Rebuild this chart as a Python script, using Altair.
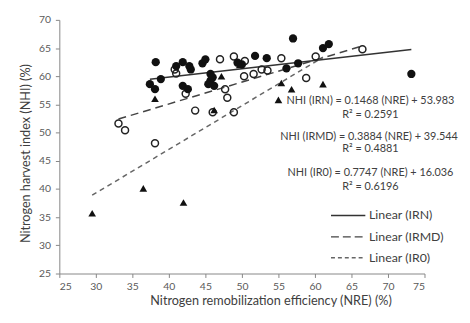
import altair as alt
import pandas as pd

# IRN series (filled circles)
irn_x = [38.2, 37.4, 38.1, 38.9, 41.0, 41.9, 42.8, 43.0, 41.9, 42.6, 44.6, 45.0, 45.7, 45.7,
         46.2, 45.4, 46.0, 51.8, 50.0, 53.4, 56.1, 57.0, 61.1, 61.9, 57.7, 73.2, 49.4]
irn_y = [62.5, 58.6, 57.7, 59.5, 61.8, 62.5, 61.8, 61.2, 58.3, 57.7, 62.3, 63.0, 60.4, 59.2,
         58.3, 58.6, 59.8, 63.6, 62.1, 63.2, 61.4, 66.7, 65.0, 65.7, 62.3, 60.4, 62.4]
# IRMD series (open circles)
irmd_x = [33.1, 34.0, 38.1, 43.6, 46.0, 48.9, 48.0, 47.7, 42.3, 40.8, 41.0, 47.0, 48.9, 50.4,
          50.3, 51.6, 52.7, 55.4, 60.1, 66.5, 58.8, 53.5]
irmd_y = [51.6, 50.4, 48.1, 53.9, 53.6, 53.6, 56.2, 57.7, 56.9, 61.2, 60.5, 63.0, 63.5, 62.7,
          60.0, 60.4, 61.2, 63.2, 63.5, 64.8, 59.7, 61.0]
# IR0 series (filled triangles)
ir0_x = [29.5, 36.5, 42.0, 38.1, 46.2, 47.2, 55.4, 56.8, 55.0, 61.1, 49.7]
ir0_y = [35.7, 40.1, 37.6, 56.0, 54.0, 60.0, 58.8, 57.7, 55.8, 58.6, 62.0]

# Trendline equations (slope, intercept)
fits = {"IRN": (0.1468, 53.983), "IRMD": (0.3884, 39.544), "IR0": (0.7747, 16.036)}

ann_text = ["NHI (IRN) = 0.1468 (NRE) + 53.983", "R² = 0.2591",
            "NHI (IRMD) = 0.3884 (NRE) + 39.544", "R² = 0.4881",
            "NHI (IR0) = 0.7747 (NRE) + 16.036", "R² = 0.6196"]
ann_x = [67.6, 67.6, 67.4, 67.6, 67.6, 67.6]
ann_y = [55.6, 53.2, 49.3, 47.1, 42.9, 40.4]

leg_labels = ["Linear (IRN)", "Linear (IRMD)", "Linear (IR0)"]
leg_y = [35.3, 31.5, 27.8]
leg_x1, leg_x2, leg_tx = 62.2, 66.9, 67.4

FONT = "Lato"
xs = alt.Scale(domain=[25, 75], nice=False, zero=False)
ys = alt.Scale(domain=[25, 70], nice=False, zero=False)
X = alt.X("x:Q", scale=xs, title="Nitrogen remobilization efficiency (NRE) (%)",
          axis=alt.Axis(values=list(range(25, 80, 5)), titleX=214))
Y = alt.Y("y:Q", scale=ys, title="Nitrogen harvest index (NHI) (%)",
          axis=alt.Axis(values=list(range(25, 75, 5)), titleY=135))

def pts(xv, yv):
    return pd.DataFrame({"x": xv, "y": yv})

irn = alt.Chart(pts(irn_x, irn_y)).mark_point(shape="circle", filled=True, size=70, color="#111", opacity=1).encode(x=X, y=Y)
irmd = alt.Chart(pts(irmd_x, irmd_y)).mark_point(shape="circle", filled=False, size=50, color="#222", strokeWidth=1.5, opacity=1).encode(x=X, y=Y)
ir0 = alt.Chart(pts(ir0_x, ir0_y)).mark_point(shape="triangle-up", filled=True, size=60, color="#111", opacity=1).encode(x=X, y=Y)

def fit_line(name, xv, dash, color):
    m, b = fits[name]
    lo, hi = min(xv), max(xv)
    df = pd.DataFrame({"x": [lo, hi], "y": [m * lo + b, m * hi + b]})
    kw = dict(color=color, strokeWidth=1.5)
    if dash:
        kw["strokeDash"] = dash
    return alt.Chart(df).mark_line(**kw).encode(x=X, y=Y)

l_irn = fit_line("IRN", irn_x, None, "#333")
l_irmd = fit_line("IRMD", irmd_x, [8, 5], "#444")
l_ir0 = fit_line("IR0", ir0_x, [5, 4], "#666")

ann = alt.Chart(pd.DataFrame({"x": ann_x, "y": ann_y, "t": ann_text})).mark_text(
    font=FONT, fontSize=11, color="#404040", align="center", baseline="middle").encode(x=X, y=Y, text="t:N")

legs = []
for lab, yy, dash, col in zip(leg_labels, leg_y, [None, [8, 4], [4, 3]], ["#333", "#444", "#666"]):
    df = pd.DataFrame({"x": [leg_x1], "x2": [leg_x2], "y": [yy]})
    kw = dict(color=col, strokeWidth=1.5)
    if dash:
        kw["strokeDash"] = dash
    legs.append(alt.Chart(df).mark_rule(**kw).encode(x=X, x2="x2", y=Y))
leg_text = alt.Chart(pd.DataFrame({"x": [leg_tx] * 3, "y": leg_y, "t": leg_labels})).mark_text(
    font=FONT, fontSize=12.5, color="#404040", align="left", baseline="middle").encode(x=X, y=Y, text="t:N")

chart = alt.layer(l_irmd, l_ir0, l_irn, irmd, irn, ir0, ann, *legs, leg_text).properties(
    width=370, height=257,
    autosize=alt.AutoSizeParams(type="none"),
    padding={"left": 52, "top": 10, "right": 38, "bottom": 40},
).configure_view(stroke=None).configure_axis(
    grid=False, domainColor="#868686", tickColor="#868686", tickSize=4,
    labelFont=FONT, labelFontSize=10.5, labelColor="#595959", labelPadding=4,
    titleFont=FONT, titleFontSize=12.8, titleFontWeight="normal", titleColor="#404040",
).configure_axisY(labelPadding=5, titlePadding=6).configure_axisX(titlePadding=3)

chart.save("out.html", embed_options={"renderer": "svg", "actions": False})
